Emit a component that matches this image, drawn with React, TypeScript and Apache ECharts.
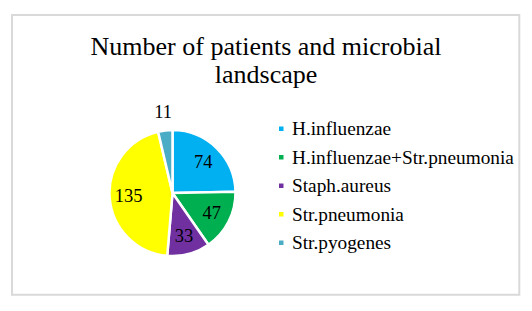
import React, { useEffect, useRef } from "react";
import * as echarts from "echarts";

const titleLines = ["Number of patients and microbial", "landscape"];
const categories = [
  "H.influenzae",
  "H.influenzae+Str.pneumonia",
  "Staph.aureus",
  "Str.pneumonia",
  "Str.pyogenes",
];
const patients = [74, 47, 33, 135, 11];
const sliceColors = ["#00B0F0", "#00B050", "#7030A0", "#FFFF00", "#4BACC6"];
const outsideLabelNames = ["Str.pyogenes"];

const FONT = "'Liberation Serif', 'Times New Roman', serif";

export default function App() {
  const ref = useRef<HTMLDivElement>(null);

  useEffect(() => {
    if (!ref.current) return;
    const chart = echarts.init(ref.current, undefined, { renderer: "svg" });
    const center = [172.5, 193];
    const pieData = categories.map((name, i) => ({
      name,
      value: patients[i],
      itemStyle: { color: sliceColors[i] },
    }));
    const labelStyle = {
      color: "#000",
      fontFamily: FONT,
      fontSize: 18.5,
    };
    chart.setOption({
      animation: false,
      backgroundColor: "#fff",
      title: {
        text: titleLines.join("\n"),
        left: 266,
        top: 32,
        padding: 0,
        textAlign: "center",
        textStyle: {
          fontFamily: FONT,
          fontSize: 26,
          fontWeight: "normal",
          color: "#000",
          lineHeight: 28.3,
        },
      },
      legend: {
        orient: "vertical",
        left: 277,
        top: 119.2,
        padding: 0,
        itemWidth: 6.5,
        itemHeight: 6.5,
        itemGap: 9.3,
        icon: "rect",
        selectedMode: false,
        data: categories.map((name, i) => ({ name, itemStyle: { color: sliceColors[i] } })),
        textStyle: {
          fontFamily: FONT,
          fontSize: 19.3,
          lineHeight: 19.2,
          color: "#000",
          padding: [0, 0, 0, 2.5],
        },
      },
      graphic: [
        {
          type: "rect",
          shape: { x: 12, y: 15, width: 507.3, height: 279.7 },
          style: { fill: "none", stroke: "#D9D9D9", lineWidth: 2 },
          silent: true,
        },
      ],
      series: [
        {
          type: "pie",
          center,
          radius: 63,
          startAngle: 90,
          clockwise: true,
          silent: true,
          label: { show: false },
          labelLine: { show: false },
          itemStyle: { borderColor: "#fff", borderWidth: 2.5 },
          data: pieData,
        },
        {
          type: "pie",
          center,
          radius: [0, 82],
          startAngle: 90,
          clockwise: true,
          silent: true,
          labelLine: { show: false },
          itemStyle: { color: "rgba(0,0,0,0)" },
          label: { show: true, position: "inside", formatter: "{c}", ...labelStyle },
          data: categories.map((name, i) => ({
            name,
            value: patients[i],
            label: { show: !outsideLabelNames.includes(name) },
          })),
        },
        {
          type: "pie",
          center,
          radius: [72, 85],
          startAngle: 90,
          clockwise: true,
          silent: true,
          labelLine: { show: false },
          itemStyle: { color: "rgba(0,0,0,0)" },
          label: { show: true, position: "inside", formatter: "{c}", ...labelStyle },
          data: categories.map((name, i) => ({
            name,
            value: patients[i],
            label: { show: outsideLabelNames.includes(name) },
          })),
        },
      ],
    });
    return () => chart.dispose();
  }, []);

  return (
    <div
      ref={ref}
      style={{ position: "fixed", left: 0, top: 0, width: 532, height: 311 }}
    />
  );
}
